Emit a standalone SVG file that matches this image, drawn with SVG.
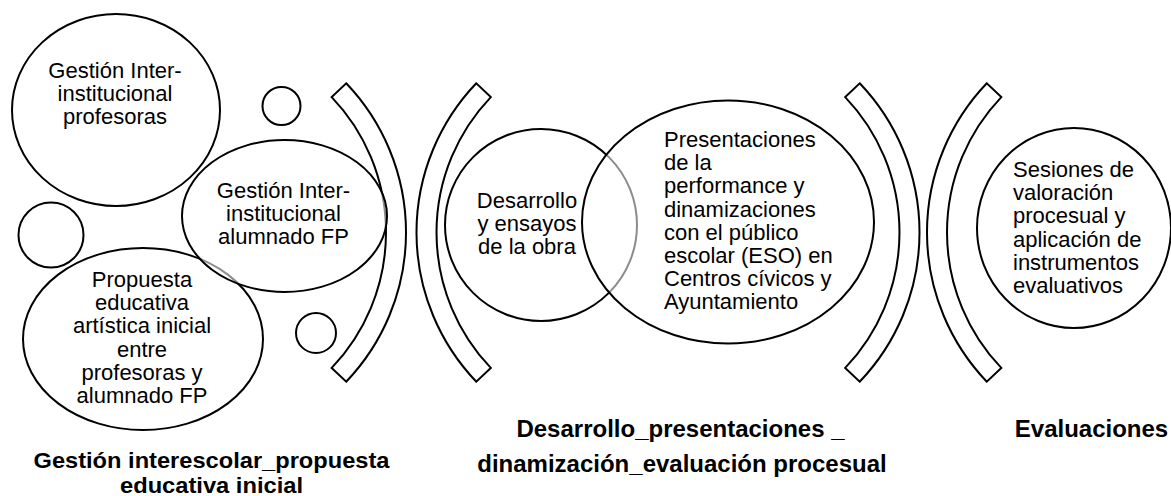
<svg xmlns="http://www.w3.org/2000/svg" width="1171" height="496" viewBox="0 0 1171 496">
<style>
  .sh { fill: none; stroke: #000; stroke-width: 2; }
  .veil { fill: #fff; fill-opacity: 0.55; stroke: #000; stroke-width: 2; }
  .t { font-family: "Liberation Sans", Arial, sans-serif; font-size: 22px; fill: #000; }
  .c { text-anchor: middle; }
  .lbl { font-family: "Liberation Sans", Arial, sans-serif; font-size: 24px; font-weight: bold; fill: #000; text-anchor: middle; }
  .lbl2 { font-size: 22px; }
</style>
<rect width="1171" height="496" fill="#fff"/>

<g id="separators">
  <path class="sh" d="M346.2,83.3 A216,216 0 0 1 346.2,381.7 L331.7,367.9 A196,196 0 0 0 331.7,97.1 Z"/>
  <path class="sh" d="M476.3,83.3 A216,216 0 0 0 476.3,381.7 L490.8,367.9 A196,196 0 0 1 490.8,97.1 Z"/>
  <path class="sh" d="M859.7,83.3 A216,216 0 0 1 859.7,381.7 L845.2,367.9 A196,196 0 0 0 845.2,97.1 Z"/>
  <path class="sh" d="M986.8,83.3 A216,216 0 0 0 986.8,381.7 L1001.3,367.9 A196,196 0 0 1 1001.3,97.1 Z"/>
</g>

<g id="decor">
  <circle class="sh" cx="281.5" cy="106" r="19"/>
  <circle class="sh" cx="51" cy="235" r="32.5"/>
  <circle class="sh" cx="316" cy="333" r="20"/>
</g>

<g id="node-profesoras">
  <ellipse class="sh" cx="116" cy="110" rx="104" ry="96"/>
  <text class="t c" x="115" y="78">Gestión Inter-</text>
  <text class="t c" x="115" y="101">institucional</text>
  <text class="t c" x="115" y="124">profesoras</text>
</g>

<g id="node-propuesta">
  <ellipse class="sh" cx="143" cy="339" rx="120" ry="91"/>
  <text class="t c" x="142" y="287">Propuesta</text>
  <text class="t c" x="142" y="310">educativa</text>
  <text class="t c" x="142" y="333">artística inicial</text>
  <text class="t c" x="142" y="357">entre</text>
  <text class="t c" x="142" y="380">profesoras y</text>
  <text class="t c" x="142" y="403">alumnado  FP</text>
</g>

<g id="node-alumnado">
  <ellipse class="veil" cx="284.5" cy="216" rx="102.5" ry="76"/>
  <text class="t c" x="283.5" y="198">Gestión Inter-</text>
  <text class="t c" x="283.5" y="221">institucional</text>
  <text class="t c" x="283.5" y="244">alumnado  FP</text>
</g>

<g id="node-desarrollo">
  <circle class="sh" cx="541" cy="225" r="96"/>
  <text class="t c" x="527" y="208">Desarrollo</text>
  <text class="t c" x="527" y="231">y ensayos</text>
  <text class="t c" x="527" y="254">de la obra</text>
</g>

<g id="node-presentaciones">
  <ellipse class="veil" cx="728" cy="222" rx="146" ry="121.5"/>
  <text class="t" x="664" y="147">Presentaciones</text>
  <text class="t" x="664" y="170">de la</text>
  <text class="t" x="664" y="193">performance y</text>
  <text class="t" x="664" y="217">dinamizaciones</text>
  <text class="t" x="664" y="240">con el público</text>
  <text class="t" x="664" y="263">escolar (ESO) en</text>
  <text class="t" x="664" y="286">Centros cívicos y</text>
  <text class="t" x="664" y="309">Ayuntamiento</text>
</g>

<g id="node-sesiones">
  <ellipse class="sh" cx="1074" cy="228" rx="97" ry="100"/>
  <text class="t" x="1013" y="177">Sesiones de</text>
  <text class="t" x="1013" y="200">valoración</text>
  <text class="t" x="1013" y="223">procesual y</text>
  <text class="t" x="1013" y="247">aplicación de</text>
  <text class="t" x="1013" y="270">instrumentos</text>
  <text class="t" x="1013" y="293">evaluativos</text>
</g>

<g id="labels">
  <text class="lbl lbl2" x="211.5" y="468" textLength="356" lengthAdjust="spacingAndGlyphs">Gestión interescolar_propuesta</text>
  <text class="lbl lbl2" x="211.5" y="493" textLength="183" lengthAdjust="spacingAndGlyphs">educativa inicial</text>
  <text class="lbl" x="680.5" y="437">Desarrollo_presentaciones _</text>
  <text class="lbl" x="682" y="472">dinamización_evaluación procesual</text>
  <text class="lbl" x="1091.5" y="437">Evaluaciones</text>
</g>
</svg>
